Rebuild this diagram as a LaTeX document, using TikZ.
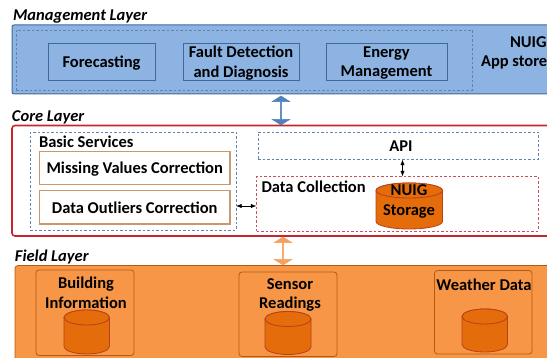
\documentclass[tikz,border=0pt]{standalone}
\usepackage{fontspec}
\setmainfont{Carlito}
\usetikzlibrary{shapes.geometric,shapes.arrows,arrows.meta}
\definecolor{mgfill}{HTML}{8DB3E2}
\definecolor{mgline}{HTML}{41689C}
\definecolor{orfill}{HTML}{F79646}
\definecolor{orline}{HTML}{B65A12}
\definecolor{cyfill}{HTML}{E46C0A}
\definecolor{cyline}{HTML}{B8401A}
\definecolor{redline}{HTML}{C8242C}
\definecolor{tanline}{HTML}{C8996E}
\definecolor{dashblue}{HTML}{5F83AE}
\definecolor{dashred}{HTML}{C8505A}
\definecolor{arblue}{HTML}{4F81BD}
\definecolor{arorange}{HTML}{F4A060}
\tikzset{
  x=1pt,y=-1pt,
  every node/.style={inner sep=0pt,outer sep=0pt,align=center,text depth=0pt,font=\bfseries\fontsize{16.5}{19.5}\selectfont},
  box/.style 2 args={minimum width=#1 pt,minimum height=#2 pt},
  layertitle/.style={anchor=base west,font=\bfseries\itshape\fontsize{16.5}{18}\selectfont},
  layerm/.style={draw=mgline,fill=mgfill,line width=1pt,rounded corners=2pt},
  layerc/.style={draw=redline,fill=white,line width=1.6pt,rounded corners=3pt},
  layerf/.style={draw=orline,fill=orfill,line width=.8pt,rounded corners=3pt},
  bluedash/.style={draw=dashblue,line width=.8pt,dash pattern=on 2.5pt off 2pt},
  reddash/.style={draw=dashred,line width=.8pt,dash pattern=on 2.5pt off 2pt},
  appbox/.style={draw=mgline,line width=.9pt},
  tanbox/.style={draw=tanline,line width=1.1pt},
  fieldbox/.style={draw=orline,line width=.8pt,rounded corners=3pt},
  storepath/.style={draw=cyline,line width=.8pt,fill=cyfill},
  thinarrow/.style={Latex-Latex,line width=.6pt,black,>={Latex[length=2.5pt,width=2.5pt]}},
  bigarrow/.style={double arrow,shape border rotate=90,minimum width=17.5pt,double arrow head extend=3pt,line width=.5pt,double arrow tip angle=115},
}
% name, left x, top y, width, height, half-height of the end ellipse
\newcommand{\storecyl}[6]{%
  \node[box={#4}{#5},anchor=north west] (#1) at (#2,#3) {};
  \path[storepath] ({#2},{#3+#6}) -- ({#2},{#3+#5-#6})
    arc[start angle=180,end angle=360,x radius={#4/2*1pt},y radius=#6 pt]
    -- ({#2+#4},{#3+#6})
    arc[start angle=0,end angle=180,x radius={#4/2*1pt},y radius=#6 pt] -- cycle;
  \path[storepath] ({#2},{#3+#6})
    arc[start angle=180,end angle=540,x radius={#4/2*1pt},y radius=#6 pt];
}
\begin{document}
\begin{tikzpicture}
\useasboundingbox (0,0) rectangle (547,358);
% Layer backgrounds
\node[layerm,box={580}{69},anchor=north west] (mgmt) at (12,25) {};
\node[layerc,box={580}{110.5},anchor=north west] (core) at (12,125.5) {};
\node[layerf,box={580}{110},anchor=north west] (field) at (15,265.5) {};
% Titles
\node[layertitle] (tm) at (13,21) {Management Layer};
\node[layertitle] (tc) at (12,121.5) {Core Layer};
\node[layertitle] (tf) at (15,261.5) {Field Layer};
% Management
\node[bluedash,box={456}{60},anchor=north west] (mdash) at (16,30) {};
\node[appbox,box={107}{37},anchor=north west] (fc) at (48,43) {Forecasting};
\node[appbox,box={116}{37},anchor=north west] (fd) at (183,43) {Fault Detection\\and Diagnosis};
\node[appbox,box={121}{37},anchor=north west] (em) at (326,43) {Energy\\Management};
\node[anchor=base west] (nuig) at (510,48) {NUIG};
\node[anchor=base west] (appstore) at (481,67) {App store};
% Core
\node[bluedash,box={206}{97.5},anchor=north west] (basic) at (30,132.5) {};
\node[anchor=base west] (basict) at (39,147.5) {Basic Services};
\node[tanbox,box={190.5}{33},anchor=north west] (missing) at (39.5,151.5) {Missing Values Correction};
\node[tanbox,box={190.5}{33.5},anchor=north west] (outl) at (39.5,190.5) {Data Outliers Correction};
\node[bluedash,box={280}{27.5},anchor=north west] (api) at (258,132) {\hspace*{6pt}API};
\node[reddash,box={281.5}{54.5},anchor=north west] (dc) at (256.5,176.5) {};
\node[anchor=base west] (dct) at (261.5,193) {Data Collection};
\storecyl{nstore}{376}{183}{66.5}{46}{7.5}
\node (nstoret) at (409,200) {NUIG\\Storage};
% Connectors
\coordinate (apic) at (402.5,159.5);
\draw[thinarrow] (apic) -- (apic |- dc.north);
\draw[thinarrow] (basic.east |- 0,206) -- (dc.west |- 0,206);
% Inter-layer block arrows
\node[bigarrow,fill=arblue,draw=arblue,minimum height=29pt] (ab) at (281,110.5) {};
\node[bigarrow,fill=arorange,draw=arorange,minimum height=28pt] (ao) at (283,251) {};
% Field
\node[fieldbox,box={98}{85.5},anchor=north west] (bi) at (36,270) {};
\node (bit) at (86,292.5) {Building\\Information};
\storecyl{bis}{64}{310}{45.5}{44}{7.5}
\node[fieldbox,box={98}{84.5},anchor=north west] (sr) at (239,272) {};
\node (srt) at (290,293.5) {Sensor\\Readings};
\storecyl{srs}{265}{311.5}{46}{43}{7.5}
\node[fieldbox,box={97.5}{83.5},anchor=north west] (wd) at (434.5,270.5) {};
\node (wdt) at (484,285) {Weather Data};
\storecyl{wds}{462}{309}{45.5}{43}{7.5}
\end{tikzpicture}
\end{document}
